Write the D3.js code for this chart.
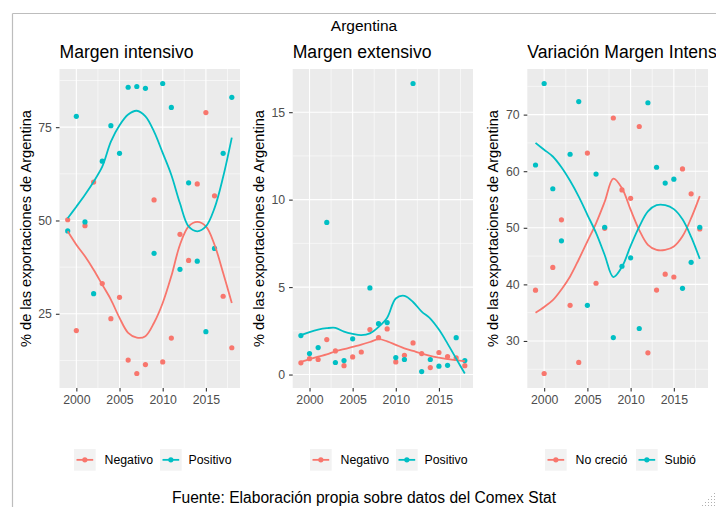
<!DOCTYPE html>
<html>
<head>
<meta charset="utf-8">
<script src="https://cdn.jsdelivr.net/npm/d3@7"></script>
<style>
  html, body { margin: 0; padding: 0; background: #fff; }
  svg { display: block; font-family: "Liberation Sans", Arial, sans-serif; }
</style>
</head>
<body>
<svg id="chart" width="716" height="507"></svg>
<script>
// ---------------- DATA ----------------
const years = [1999, 2000, 2001, 2002, 2003, 2004, 2005, 2006, 2007, 2008, 2009, 2010, 2011, 2012, 2013, 2014, 2015, 2016, 2017, 2018];
const xTicks = [2000, 2005, 2010, 2015];

// Margen intensivo
const intNegativo = [50.2, 20.5, 48.6, 60.3, 33.1, 23.7, 29.4, 12.6, 9.0, 11.4, 55.5, 12.1, 18.5, 46.3, 39.3, 59.8, 78.9, 56.6, 29.7, 15.9];
const intPositivo = [47.2, 77.9, 49.6, 30.4, 65.9, 75.4, 68.0, 85.7, 85.9, 85.4, 41.2, 86.7, 80.3, 36.9, 60.1, 39.1, 20.2, 42.5, 68.0, 83.0];
const intNegativoSmooth = [47.1, 43.5, 40.4, 36.8, 32.8, 28.8, 23.9, 19.9, 18.6, 19.0, 22.6, 27.9, 35.1, 43.5, 48.4, 49.6, 48.4, 43.5, 35.9, 27.9];
const intPositivoSmooth = [50.6, 53.7, 56.9, 60.4, 64.4, 71.1, 75.5, 78.4, 79.4, 77.9, 73.8, 68.1, 62.2, 54.6, 48.4, 47.1, 48.4, 53.3, 61.7, 72.2];
const intYTicks = [25, 50, 75];
const intYMinor = [12.5, 37.5, 62.5, 87.5];

// Margen extensivo
const extNegativo = [0.67, 0.91, 0.86, 2.0, 1.35, 0.51, 1.01, 1.29, 2.57, 2.11, 2.61, 0.72, 1.10, 1.81, 1.20, 0.40, 1.26, 1.03, 0.95, 0.51];
const extPositivo = [2.23, 1.20, 1.54, 8.70, 0.69, 0.80, 2.04, null, 4.95, 2.91, 2.97, 0.97, 0.86, 16.64, 0.17, 0.86, 0.48, 0.53, 2.11, 0.80];
const extNegativoSmooth = [0.72, 0.88, 1.02, 1.15, 1.33, 1.45, 1.58, 1.71, 1.86, 2.02, 1.90, 1.70, 1.50, 1.35, 1.20, 1.07, 0.97, 0.88, 0.82, 0.76];
const extPositivoSmooth = [2.25, 2.43, 2.57, 2.65, 2.67, 2.45, 2.32, 2.25, 2.35, 2.72, 3.25, 4.35, 4.5, 4.15, 3.6, 3.2, 2.57, 1.77, 0.91, 0.06];
const extYTicks = [0, 5, 10, 15];
const extYMinor = [2.5, 7.5, 12.5];

// Variación Margen Intensivo
const varNoCrecio = [38.97, 24.25, 43.0, 51.4, 36.3, 26.2, 63.2, 40.2, 49.9, 69.4, 56.7, 55.2, 67.9, 27.9, 39.0, 41.8, 41.3, 60.4, 56.0, 49.8];
const varSubio = [61.1, 75.5, 56.9, 47.7, 63.0, 72.3, 36.3, 59.5, 50.1, 30.6, 43.2, 44.7, 32.2, 72.1, 60.7, 57.9, 58.6, 39.3, 43.9, 50.1];
const varNoCrecioSmooth = [35.0, 36.0, 37.2, 39.1, 41.4, 44.4, 47.6, 50.8, 54.6, 58.7, 57.0, 53.2, 49.6, 47.0, 46.1, 46.1, 46.7, 48.5, 51.7, 55.6];
const varSubioSmooth = [65.0, 63.8, 62.6, 60.7, 58.3, 55.5, 52.3, 49.1, 45.2, 41.3, 43.1, 46.8, 50.2, 52.9, 54.0, 54.0, 53.3, 51.5, 48.4, 44.5];
const varYTicks = [30, 40, 50, 60, 70];
const varYMinor = [25, 35, 45, 55, 65, 75];

const mainTitle = "Argentina";
const panelTitles = ["Margen intensivo", "Margen extensivo", "Variación Margen Intensivo"];
const yTitle = "% de las exportaciones de Argentina";
const legendLabels = [["Negativo", "Positivo"], ["Negativo", "Positivo"], ["No creció", "Subió"]];
const caption = "Fuente: Elaboración propia sobre datos del Comex Stat";
const colors = ["#F8766D", "#00BFC4"];

// ---------------- LAYOUT ----------------
const panels = [
  { left: 59.5, right: 240, a: intNegativo, b: intPositivo, sa: intNegativoSmooth, sb: intPositivoSmooth, ticks: intYTicks, minor: intYMinor, legX: [74, 104.5, 160, 188.5] },
  { left: 292.7, right: 473, a: extNegativo, b: extPositivo, sa: extNegativoSmooth, sb: extPositivoSmooth, ticks: extYTicks, minor: extYMinor, legX: [310, 340.5, 396, 424.5] },
  { left: 527.3, right: 708, a: varNoCrecio, b: varSubio, sa: varNoCrecioSmooth, sb: varSubioSmooth, ticks: varYTicks, minor: varYMinor, legX: [545, 575.5, 636, 664.5] }
];
const plotTop = 69, plotBottom = 388;

const svg = d3.select("#chart");

// outer frame (viewer border)
svg.append("line").attr("x1", 12.5).attr("x2", 12.5).attr("y1", 13.5).attr("y2", 507)
  .attr("stroke", "#bdbdbd").attr("stroke-width", 1.2);
svg.append("line").attr("x1", 12.5).attr("x2", 716).attr("y1", 13.5).attr("y2", 13.5)
  .attr("stroke", "#bdbdbd").attr("stroke-width", 1.2);

svg.append("text").attr("x", 364).attr("y", 31).attr("text-anchor", "middle")
  .attr("font-size", 15.5).attr("fill", "#000").text(mainTitle);

panels.forEach((p, i) => {
  const g = svg.append("g");
  const xMin = d3.min(years), xMax = d3.max(years);
  const xPad = (xMax - xMin) * 0.05;
  const x = d3.scaleLinear().domain([xMin - xPad, xMax + xPad]).range([p.left, p.right]);
  const allY = [].concat(p.a, p.b, p.sa, p.sb).filter(v => v != null);
  const [yMin, yMax] = d3.extent(allY);
  const yPad = (yMax - yMin) * 0.05;
  const y = d3.scaleLinear().domain([yMin - yPad, yMax + yPad]).range([plotBottom, plotTop]);

  // background
  g.append("rect").attr("x", p.left).attr("y", plotTop).attr("width", p.right - p.left).attr("height", plotBottom - plotTop)
    .attr("fill", "#EBEBEB");

  // minor grid
  const xMinor = xTicks.map(t => t + 2.5);
  g.selectAll(null).data(p.minor).join("line")
    .attr("x1", p.left).attr("x2", p.right).attr("y1", d => y(d)).attr("y2", d => y(d))
    .attr("stroke", "#fff").attr("stroke-width", 0.55);
  g.selectAll(null).data(xMinor).join("line")
    .attr("y1", plotTop).attr("y2", plotBottom).attr("x1", d => x(d)).attr("x2", d => x(d))
    .attr("stroke", "#fff").attr("stroke-width", 0.55);
  // major grid
  g.selectAll(null).data(p.ticks).join("line")
    .attr("x1", p.left).attr("x2", p.right).attr("y1", d => y(d)).attr("y2", d => y(d))
    .attr("stroke", "#fff").attr("stroke-width", 1.1);
  g.selectAll(null).data(xTicks).join("line")
    .attr("y1", plotTop).attr("y2", plotBottom).attr("x1", d => x(d)).attr("x2", d => x(d))
    .attr("stroke", "#fff").attr("stroke-width", 1.1);

  // axes
  const xAxis = g.append("g").attr("transform", `translate(0,${plotBottom})`)
    .call(d3.axisBottom(x).tickValues(xTicks).tickFormat(d3.format("d")).tickSize(3.6).tickPadding(3.5));
  const yAxis = g.append("g").attr("transform", `translate(${p.left},0)`)
    .call(d3.axisLeft(y).tickValues(p.ticks).tickFormat(d3.format("d")).tickSize(3.6).tickPadding(4));
  [xAxis, yAxis].forEach(ax => {
    ax.select(".domain").remove();
    ax.selectAll(".tick line").attr("stroke", "#333").attr("stroke-width", 1.1);
    ax.selectAll(".tick text").attr("fill", "#4D4D4D").attr("font-size", 12.3)
      .attr("font-family", "Liberation Sans, Arial, sans-serif");
  });

  // points
  [p.a, p.b].forEach((arr, k) => {
    g.selectAll(null).data(years.map((yr, j) => ({ yr, v: arr[j] })).filter(d => d.v != null)).join("circle")
      .attr("cx", d => x(d.yr)).attr("cy", d => y(d.v)).attr("r", 2.6).attr("fill", colors[k]);
  });

  // smooth lines
  const line = d3.line().x(d => x(d.yr)).y(d => y(d.v)).curve(d3.curveCatmullRom.alpha(0.5));
  [p.sa, p.sb].forEach((arr, k) => {
    g.append("path").datum(years.map((yr, j) => ({ yr, v: arr[j] })))
      .attr("d", line).attr("fill", "none").attr("stroke", colors[k]).attr("stroke-width", 1.8);
  });

  // panel title
  svg.append("text").attr("x", p.left).attr("y", 57.5).attr("font-size", 17.6).attr("fill", "#000")
    .text(panelTitles[i]);

  // y title
  const yc = (plotTop + plotBottom) / 2;
  svg.append("text").attr("transform", `translate(${p.left - 29},${yc}) rotate(-90)`)
    .attr("text-anchor", "middle").attr("font-size", 14.6).attr("fill", "#000").text(yTitle);

  // legend
  legendLabels[i].forEach((lab, k) => {
    const kx = p.legX[k * 2], tx = p.legX[k * 2 + 1];
    const ky = 449;
    svg.append("rect").attr("x", kx).attr("y", ky).attr("width", 21.7).attr("height", 21.7).attr("fill", "#F2F2F2");
    svg.append("line").attr("x1", kx + 2.5).attr("x2", kx + 19.2).attr("y1", ky + 10.85).attr("y2", ky + 10.85)
      .attr("stroke", colors[k]).attr("stroke-width", 1.8);
    svg.append("circle").attr("cx", kx + 10.85).attr("cy", ky + 10.85).attr("r", 2.6).attr("fill", colors[k]);
    svg.append("text").attr("x", tx).attr("y", ky + 15.2).attr("font-size", 12.3).attr("fill", "#000").text(lab);
  });
});

svg.append("text").attr("x", 364).attr("y", 503).attr("text-anchor", "middle")
  .attr("font-size", 15.6).attr("fill", "#000").text(caption);

// viewer resize grip
const grip = [];
for (let i = 0; i < 5; i++) for (let j = 0; j < 5 - i; j++) grip.push([714 - i * 3, 505 - j * 3]);
svg.selectAll(null).data(grip).join("rect")
  .attr("x", d => d[0]).attr("y", d => d[1]).attr("width", 1).attr("height", 1).attr("fill", "#b0b0b0");
</script>
</body>
</html>
